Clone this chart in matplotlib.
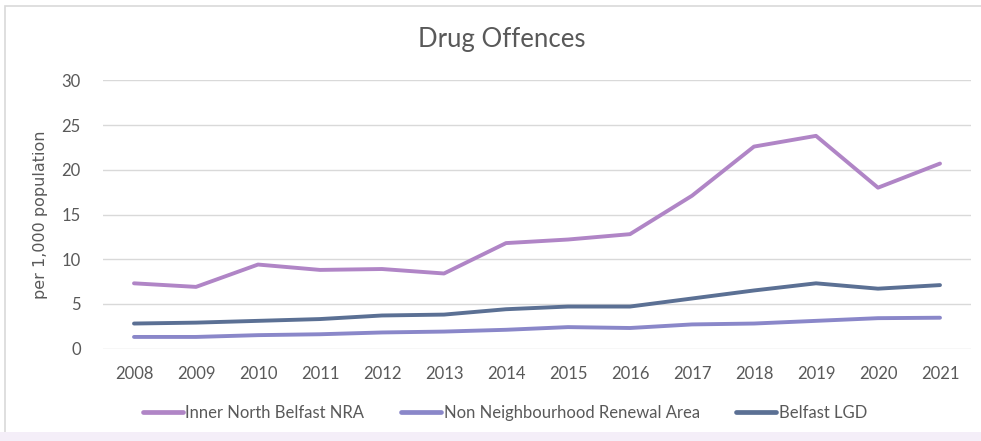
import matplotlib
matplotlib.use("Agg")
import matplotlib.pyplot as plt
from matplotlib.patches import Rectangle
import numpy as np

years = ["2008", "2009", "2010", "2011", "2012", "2013", "2014",
         "2015", "2016", "2017", "2018", "2019", "2020", "2021"]
inner_north = [7.3, 6.9, 9.4, 8.8, 8.9, 8.4, 11.8, 12.2, 12.8, 17.1, 22.6, 23.8, 18.0, 20.7]
non_nra = [1.3, 1.3, 1.5, 1.6, 1.8, 1.9, 2.1, 2.4, 2.3, 2.7, 2.8, 3.1, 3.4, 3.45]
belfast_lgd = [2.8, 2.9, 3.1, 3.3, 3.7, 3.8, 4.4, 4.7, 4.7, 5.6, 6.5, 7.3, 6.7, 7.1]
series_names = ["Inner North Belfast NRA", "Non Neighbourhood Renewal Area", "Belfast LGD"]
colors = ["#B085C6", "#8A87C9", "#5B7094"]
yticks = [0, 5, 10, 15, 20, 25, 30]

tick_font = ["Lato", "DejaVu Sans"]
txt = "#595959"

fig = plt.figure(figsize=(9.81, 4.41), dpi=100)
fig.patch.set_facecolor("white")

# chart border and bottom tint
fig.add_artist(Rectangle((5/981, 0), 1, 1 - 6/441, transform=fig.transFigure,
                         fill=False, edgecolor="#D9D9D9", linewidth=1.2))
fig.add_artist(Rectangle((0, 0), 1, 9/441, transform=fig.transFigure,
                         facecolor="#F4EEF8", edgecolor="none"))

ax = fig.add_axes([103/981, 1 - 349/441, (971 - 103)/981, (349 - 80)/441])
x = np.arange(len(years))
for vals, name, c in zip([inner_north, non_nra, belfast_lgd], series_names, colors):
    ax.plot(x, vals, color=c, linewidth=2.8, label=name, solid_capstyle="round",
            solid_joinstyle="round")

ax.set_xlim(-0.5, len(years) - 0.5)
ax.set_ylim(-0.05, 30.05)
ax.set_yticks(yticks)
ax.set_xticks(x)
ax.set_xticklabels(years)
ax.grid(axis="y", color="#D9D9D9", linewidth=1)
ax.set_axisbelow(True)
for s in ax.spines.values():
    s.set_visible(False)
ax.tick_params(length=0, colors=txt, labelsize=12)
ax.tick_params(axis="x", pad=12)
ax.tick_params(axis="y", pad=16)
for lab in ax.get_xticklabels() + ax.get_yticklabels():
    lab.set_family(tick_font)

ax.set_ylabel("per 1,000 population", fontsize=11.5, color=txt, labelpad=10)

fig.text(502/981, 1 - 40/441, "Drug Offences", ha="center", va="center",
         fontsize=18.5, color=txt, family=tick_font)

leg = fig.legend(loc="center", bbox_to_anchor=(505/981, 1 - 413/441), ncol=3,
                 frameon=False, handlelength=2.4, handletextpad=0.15,
                 columnspacing=2.2, prop={"family": tick_font, "size": 12})
for line in leg.get_lines():
    line.set_linewidth(3.4)
for t in leg.get_texts():
    t.set_color(txt)

fig.savefig("out.png", dpi=100)
